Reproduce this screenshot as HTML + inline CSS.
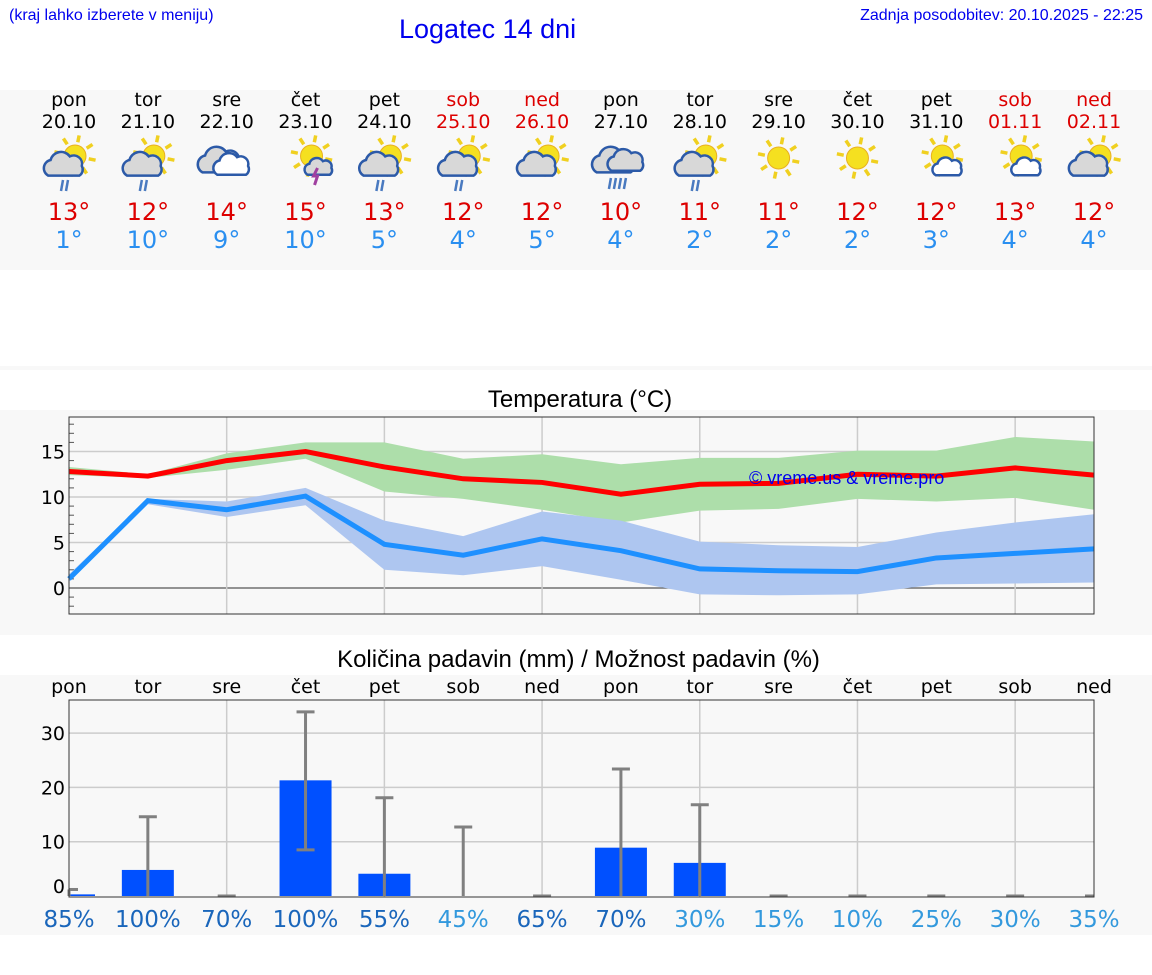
<!DOCTYPE html>
<html><head><meta charset="utf-8">
<style>
body{margin:0;width:1152px;height:975px;background:#fff;font-family:"DejaVu Sans","Liberation Sans",sans-serif;position:relative;overflow:hidden}
.abs{position:absolute}
.band{position:absolute;left:0;width:1152px;background:#f8f8f8}
</style></head><body>
<div class="band" style="top:90px;height:180px"></div>
<div class="band" style="top:366px;height:4px"></div>
<div class="band" style="top:410px;height:225px"></div>
<div class="band" style="top:675px;height:260px"></div>
<div class="abs" style="left:9px;top:7px;font-size:16px;color:#0000ee;font-family:'Liberation Sans',sans-serif">(kraj lahko izberete v meniju)</div>
<div class="abs" style="left:399px;top:14px;font-size:27px;color:#0000ee;font-family:'Liberation Sans',sans-serif">Logatec 14 dni</div>
<div class="abs" style="right:9px;top:7px;font-size:16px;color:#0000ee;font-family:'Liberation Sans',sans-serif">Zadnja posodobitev: 20.10.2025 - 22:25</div>
<div id="days"></div>
<div class="abs" style="left:0;width:1160px;text-align:center;top:386px;font-size:24px;font-family:'Liberation Sans',sans-serif">Temperatura (°C)</div>
<div class="abs" style="left:0;width:1157px;text-align:center;top:646px;font-size:24px;font-family:'Liberation Sans',sans-serif">Količina padavin (mm) / Možnost padavin (%)</div>
<svg id="tc" class="abs" style="left:0;top:0" width="1152" height="975"></svg>
<script>
const dayNames=["pon","tor","sre","čet","pet","sob","ned","pon","tor","sre","čet","pet","sob","ned"];
const dates=["20.10","21.10","22.10","23.10","24.10","25.10","26.10","27.10","28.10","29.10","30.10","31.10","01.11","02.11"];
const highs=[13,12,14,15,13,12,12,10,11,11,12,12,13,12];
const lows=[1,10,9,10,5,4,5,4,2,2,2,3,4,4];
const icons=["sunrain","sunrain","cloud","storm","sunrain","sunrain","suncloud","rain","sunrain2","sun","sun","suncloud2","suncloud2","suncloud"];
const tMax=[12.8,12.3,14,15,13.3,12,11.6,10.3,11.4,11.5,12.5,12.3,13.2,12.4];
const tMaxHi=[13.3,12.5,14.8,16,16,14.2,14.7,13.6,14.3,14.3,15.1,15.1,16.6,16.1];
const tMaxLo=[12.4,12.1,13,14.2,10.6,9.8,8.6,7.2,8.5,8.7,9.8,9.5,9.9,8.6];
const tMin=[1,9.6,8.6,10.1,4.8,3.6,5.4,4.1,2.1,1.9,1.8,3.3,3.8,4.3];
const tMinHi=[1.5,9.8,9.5,11,7.4,5.7,8.4,7.4,5.1,4.7,4.5,6.1,7.2,8.1];
const tMinLo=[0.7,9.2,7.8,9.1,2,1.4,2.4,0.9,-0.7,-0.8,-0.7,0.4,0.5,0.6];
const tTicks=[0,5,10,15];
const precip=[0.3,4.8,0,21.3,4.1,0,0,8.9,6.1,0,0,0,0,0];
const errHi=[1.2,14.6,0,33.9,18.1,12.7,0,23.4,16.8,0,0,0,0,0];
const errLo=[0,0,0,8.5,0,0,0,0,0,0,0,0,0,0];
const pTicks=[0,10,20,30];
const chance=[85,100,70,100,55,45,65,70,30,15,10,25,30,35];

const X0=69,X1=1094,DX=(X1-X0)/13;
const xi=i=>X0+i*DX;
const ty=v=>588-v*9.1;
const py=v=>896-v*5.43;
const svg=document.getElementById('tc');
const NS='http://www.w3.org/2000/svg';
function mk(t,a,p){const e=document.createElementNS(NS,t);for(const k in a)e.setAttribute(k,a[k]);(p||svg).appendChild(e);return e;}

const D=document.getElementById('days');
for(let i=0;i<14;i++){
  const c=xi(i), we=(i==5||i==6||i==12||i==13);
  const d=document.createElement('div');d.className='abs';
  
  
  d.style.cssText=`left:${c-40}px;width:80px;top:89px;text-align:center;font-size:19px;color:${we?'#dd0000':'#000'}`;
  d.innerHTML=`<div style="height:22px">${dayNames[i]}</div><div>${dates[i]}</div>`;
  D.appendChild(d);
  const h=document.createElement('div');h.className='abs';
  
  
  h.style.cssText=`left:${c-40}px;width:80px;top:198px;text-align:center;font-size:24px;color:#dd0000`;
  h.textContent=highs[i]+'°';D.appendChild(h);
  const l=document.createElement('div');l.className='abs';
  
  
  l.style.cssText=`left:${c-40}px;width:80px;top:226px;text-align:center;font-size:24px;color:#2a8ff0`;
  l.textContent=lows[i]+'°';D.appendChild(l);
}
function sun(g,cx,cy,r){for(let k=0;k<8;k++){const a=k*Math.PI/4+0.2;mk('line',{x1:cx+Math.cos(a)*(r+3),y1:cy+Math.sin(a)*(r+3),x2:cx+Math.cos(a)*(r+10),y2:cy+Math.sin(a)*(r+10),stroke:'#f0d020','stroke-width':3.5},g);}mk('circle',{cx,cy,r,fill:'#f5e020',stroke:'#e8b020','stroke-width':1},g);}
function cloud(g,cx,cy,s,fill){mk('path',{d:`M${cx-14*s},${cy+8*s} a${7*s} ${7*s} 0 0 1 ${2*s},${-13*s} a${9*s} ${9*s} 0 0 1 ${16*s},${-3*s} a${7*s} ${7*s} 0 0 1 ${10*s},${8*s} a${6*s} ${6*s} 0 0 1 ${-2*s},${8*s} z`,fill:fill||'#d8d8d8',stroke:'#2c5aa8','stroke-width':2.5},g);}
for(let i=0;i<14;i++){
  const g=mk('g',{});
  
  
  const c=xi(i),y=160,t=icons[i];
  if(t=='sun'){sun(g,c,y-2,11);}
  else if(t=='cloud'){cloud(g,c-6,y+2,1.3);cloud(g,c+6,y+6,1.1,'#fff');}
  else if(t=='rain'){cloud(g,c-6,y+2,1.3);cloud(g,c+6,y+2,1.1);for(let k=0;k<4;k++)mk('line',{x1:c-10+k*5,y1:y+18,x2:c-12+k*5,y2:y+29,stroke:'#4a7ac0','stroke-width':2.5},g);}
  else{sun(g,c+6,y-4,11);
    if(t=='storm'){cloud(g,c+14,y+8,0.85,'#d8d8d8');mk('path',{d:`M${c+12},${y+8} l-4,8 h4 l-3,9`,stroke:'#a040a0','stroke-width':3,fill:'none'},g);}
    else if(t=='suncloud2'){cloud(g,c+12,y+8,0.9,'#fff');}
    else{cloud(g,c-4,y+6,1.2,'#d8d8d8');
      if(t.startsWith('sunrain'))for(let k=0;k<2;k++)mk('line',{x1:c-6+k*5,y1:y+20,x2:c-8+k*5,y2:y+31,stroke:'#4a7ac0','stroke-width':2.5},g);}
  }
}
mk('rect',{x:X0,y:417,width:X1-X0,height:197,fill:'#f8f8f8'});
for(let v=-2;v<=18;v++){mk('line',{x1:X0,x2:X0+5,y1:ty(v),y2:ty(v),stroke:'#555','stroke-width':1});}
tTicks.forEach(v=>{mk('line',{x1:X0,x2:X1,y1:ty(v),y2:ty(v),stroke:v==0?'#555':'#ccc','stroke-width':v==0?1.2:1.5});
  const t=mk('text',{x:X0-4,y:ty(v)+7,'text-anchor':'end','font-size':19,fill:'#000'});t.textContent=v;});
for(let i=2;i<14;i+=2)mk('line',{x1:xi(i),x2:xi(i),y1:417,y2:614,stroke:'#ccc','stroke-width':1.5});
function band(hi,lo,col){let d='M'+hi.map((v,i)=>xi(i)+','+ty(v)).join('L')+'L'+lo.map((v,i)=>xi(13-i)+','+ty(lo[13-i])).join('L')+'Z';return mk('path',{d,fill:col});}
let e=band(tMaxHi,tMaxLo,'#addeaa');
e=band(tMinHi,tMinLo,'#aec6f0');
e=mk('polyline',{points:tMax.map((v,i)=>xi(i)+','+ty(v)).join(' '),fill:'none',stroke:'#ff0000','stroke-width':5});

e=mk('polyline',{points:tMin.map((v,i)=>xi(i)+','+ty(v)).join(' '),fill:'none',stroke:'#1e90ff','stroke-width':5});

mk('rect',{x:X0,y:417,width:X1-X0,height:197,fill:'none',stroke:'#333','stroke-width':1});
e=mk('text',{x:749,y:484,'font-size':18,fill:'#0000ee','font-family':'Liberation Sans'});e.textContent='© vreme.us & vreme.pro';

mk('rect',{x:X0,y:700,width:X1-X0,height:197,fill:'#f8f8f8'});
pTicks.forEach(v=>{if(v>0)mk('line',{x1:X0,x2:X1,y1:py(v),y2:py(v),stroke:'#ccc','stroke-width':1.5});
  const t=mk('text',{x:X0-4,y:py(v)+(v==0?-3:7),'text-anchor':'end','font-size':19,fill:'#000'});t.textContent=v;});
for(let i=2;i<14;i+=2)mk('line',{x1:xi(i),x2:xi(i),y1:700,y2:897,stroke:'#ccc','stroke-width':1.5});
for(let i=0;i<14;i++){
  const t=mk('text',{x:xi(i),y:693,'text-anchor':'middle','font-size':19,fill:'#000'});t.textContent=dayNames[i];
  
  if(precip[i]>0){let x=xi(i)-26,w=52;if(i==0){x=X0;w=26;}
    const b=mk('rect',{x,y:py(precip[i]),width:w,height:py(0)-py(precip[i]),fill:'#0050ff'});
    }
  const g=mk('g',{});
  const x1=i==0?X0:xi(i)-9,x2=i==13?X1:xi(i)+9;
  mk('line',{x1:xi(i),x2:xi(i),y1:py(errHi[i]),y2:py(errLo[i]),stroke:'#808080','stroke-width':3},g);
  mk('line',{x1,x2,y1:py(errHi[i]),y2:py(errHi[i]),stroke:'#808080','stroke-width':3},g);
  if(errLo[i]>0)mk('line',{x1,x2,y1:py(errLo[i]),y2:py(errLo[i]),stroke:'#808080','stroke-width':3},g);
  const p=mk('text',{x:xi(i),y:927,'text-anchor':'middle','font-size':23,fill:chance[i]>=50?'#1a66bb':'#3399dd'});p.textContent=chance[i]+'%';
  
}
mk('rect',{x:X0,y:700,width:X1-X0,height:197,fill:'none',stroke:'#333','stroke-width':1});
</script>
</body></html>
